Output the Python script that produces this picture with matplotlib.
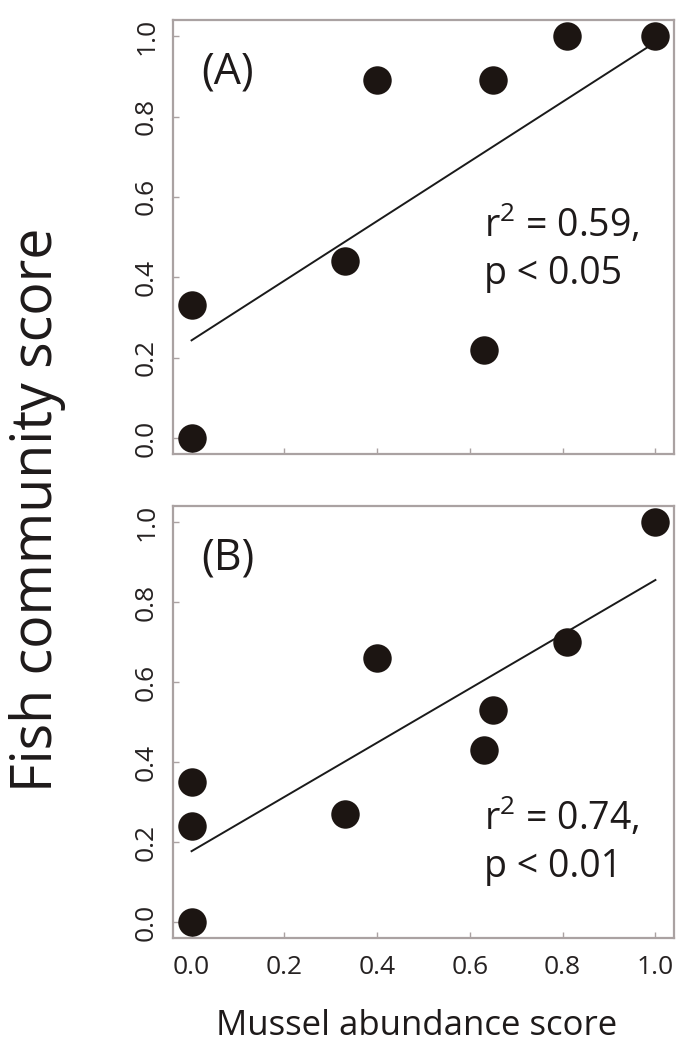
import matplotlib
matplotlib.use("Agg")
import matplotlib.pyplot as plt

plt.rcParams['font.family'] = ['Open Sans', 'DejaVu Sans']
plt.rcParams['mathtext.default'] = 'regular'

# Panel A: mussel abundance vs fish community score
mussel_a = [0.0, 0.0, 0.33, 0.40, 0.63, 0.65, 0.81, 1.0]
fish_a = [0.0, 0.33, 0.44, 0.89, 0.22, 0.89, 1.0, 1.0]
fit_a = (0.243, 0.742)  # intercept, slope of drawn regression line
stats_a = ["r$^{2}$ = 0.59,", "p < 0.05"]

# Panel B
mussel_b = [0.0, 0.0, 0.0, 0.33, 0.40, 0.63, 0.65, 0.81, 1.0]
fish_b = [0.0, 0.24, 0.35, 0.27, 0.66, 0.43, 0.53, 0.70, 1.0]
fit_b = (0.177, 0.678)
stats_b = ["r$^{2}$ = 0.74,", "p < 0.01"]

ticks = [0.0, 0.2, 0.4, 0.6, 0.8, 1.0]
tick_labels = ["0.0", "0.2", "0.4", "0.6", "0.8", "1.0"]

spine_col = "#aaa2a2"
dot_col = "#1c1512"
text_col = "#1e1a1a"

fig = plt.figure(figsize=(6.89, 10.52), dpi=100)
ax_a = fig.add_axes([0.2511, 0.5684, 0.7271, 0.4125])
ax_b = fig.add_axes([0.2511, 0.1084, 0.7271, 0.4106])


def draw_panel(ax, xs, ys, fit, stats, label, stat_y, show_x):
    ax.scatter(xs, ys, s=420, color=dot_col, zorder=3, linewidths=0)
    b0, b1 = fit
    ax.plot([0.0, 1.0], [b0, b0 + b1], color="#1a1a1a", lw=1.4, zorder=2)
    ax.set_xlim(-0.04, 1.04)
    ax.set_ylim(-0.04, 1.04)
    ax.set_xticks(ticks)
    ax.set_yticks(ticks)
    ax.set_yticklabels(tick_labels, rotation=90, va="center")
    if show_x:
        ax.set_xticklabels(tick_labels)
    else:
        ax.set_xticklabels([])
    ax.tick_params(direction="in", length=4, width=1, color=spine_col,
                   labelsize=19, labelcolor="#262222")
    ax.tick_params(axis="y", pad=10)
    ax.tick_params(axis="x", pad=12)
    for sp in ax.spines.values():
        sp.set_color(spine_col)
        sp.set_linewidth(1.6)
    ax.text(0.02, 0.965, label, fontsize=31, color=text_col,
            ha="left", va="top")
    ax.text(0.63, stat_y, stats[0], fontsize=27, color=text_col,
            ha="left", va="baseline")
    ax.text(0.63, stat_y - 0.118, stats[1], fontsize=27, color=text_col,
            ha="left", va="baseline")


draw_panel(ax_a, mussel_a, fish_a, fit_a, stats_a, "(A)", 0.50, False)
draw_panel(ax_b, mussel_b, fish_b, fit_b, stats_b, "(B)", 0.23, True)

fig.text(0.055, 0.515, "Fish community score", rotation=90, fontsize=40,
         color=text_col, ha="center", va="center")
fig.text(0.605, 0.025, "Mussel abundance score", fontsize=25,
         color=text_col, ha="center", va="center")

fig.savefig("out.png", dpi=100)
